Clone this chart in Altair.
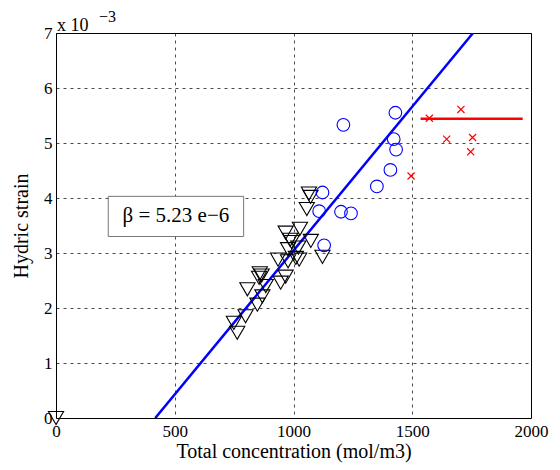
import altair as alt
import pandas as pd

# Strain values are in units of 1e-3
circ_x = [1210, 1429, 1422, 1432, 1408, 1351, 1200, 1242, 1122, 1108, 1129]
circ_y = [5.33, 5.55, 5.07, 4.88, 4.51, 4.21, 3.75, 3.72, 4.10, 3.76, 3.14]

tri_x = [1065, 1072, 1056, 1027, 967, 986, 992, 1073, 977, 1020, 1010, 1024, 1122,
         935, 977, 858, 866, 855, 806, 883, 946, 967, 869, 848, 749, 763, 798, 0]
tri_y = [4.08, 4.02, 3.80, 3.44, 3.37, 3.24, 3.20, 3.22, 3.07, 3.10, 2.91, 2.88, 2.93,
         2.88, 2.85, 2.63, 2.59, 2.55, 2.34, 2.40, 2.46, 2.57, 2.21, 2.06, 1.73, 1.55, 1.85, 0.0]

cross_x = [1572, 1705, 1645, 1754, 1746, 1495]
cross_y = [5.45, 5.61, 5.07, 5.10, 4.84, 4.40]

fit_x = [418, 1756]
fit_y = [0.0, 7.0]

mean_x = [1535, 1965]
mean_y = [5.44, 5.44]

x_ticks = [0, 500, 1000, 1500, 2000]
y_ticks = [0, 1, 2, 3, 4, 5, 6, 7]

box_text = "β = 5.23 e−6"
box_x = [220, 790]
box_y = [3.30, 4.03]

FONT = "Times New Roman, Liberation Serif, DejaVu Serif, serif"

xs = alt.Scale(domain=[0, 2000], nice=False, zero=False)
ys = alt.Scale(domain=[0, 7], nice=False, zero=False)

xax = alt.Axis(values=x_ticks, format="d", title="Total concentration (mol/m3)", grid=True,
               gridColor="#000", gridDash=[3, 4], gridOpacity=0.7, gridWidth=1,
               domain=False, ticks=False, labelFontSize=17, labelFont=FONT,
               labelColor="#000", labelPadding=5, titleFont=FONT, titleFontSize=20,
               titleFontWeight="normal", titleColor="#000", titlePadding=2, labelFlush=False)
yax = alt.Axis(values=y_ticks, format="d", title="Hydric strain", grid=True,
               gridColor="#000", gridDash=[3, 4], gridOpacity=0.7, gridWidth=1,
               domain=False, ticks=False, labelFontSize=17, labelFont=FONT,
               labelColor="#000", labelPadding=4, titleFont=FONT, titleFontSize=20,
               titleFontWeight="normal", titleColor="#000", titlePadding=12, labelFlush=False)

base_df = pd.DataFrame({"x": x_ticks[:1], "y": y_ticks[:1]})
axes = alt.Chart(base_df).mark_point(opacity=0).encode(
    x=alt.X("x:Q", scale=xs, axis=xax), y=alt.Y("y:Q", scale=ys, axis=yax))

box_df = pd.DataFrame({"x": [box_x[0]], "x2": [box_x[1]], "y": [box_y[0]], "y2": [box_y[1]],
                       "xc": [(box_x[0] + box_x[1]) / 2], "yc": [(box_y[0] + box_y[1]) / 2],
                       "t": [box_text]})
box = alt.Chart(box_df).mark_rect(fill="white", stroke="#777", strokeWidth=1).encode(
    x=alt.X("x:Q", scale=xs), x2="x2", y=alt.Y("y:Q", scale=ys), y2="y2")
box_t = alt.Chart(box_df).mark_text(font=FONT, fontSize=21, color="#000",
                                    align="center", baseline="middle").encode(
    x=alt.X("xc:Q", scale=xs), y=alt.Y("yc:Q", scale=ys), text="t:N")

fit_df = pd.DataFrame({"x": fit_x, "y": fit_y})
fit = alt.Chart(fit_df).mark_line(color="#0000ff", strokeWidth=2.5, clip=True).encode(
    x=alt.X("x:Q", scale=xs), y=alt.Y("y:Q", scale=ys))

mean_df = pd.DataFrame({"x": mean_x, "y": mean_y})
mean = alt.Chart(mean_df).mark_line(color="#ff0000", strokeWidth=2.5).encode(
    x=alt.X("x:Q", scale=xs), y=alt.Y("y:Q", scale=ys))

tri_df = pd.DataFrame({"x": tri_x, "y": tri_y})
tri = alt.Chart(tri_df).mark_point(shape="triangle-down", size=230, filled=False,
                                   color="#000", strokeWidth=1.1, opacity=1).encode(
    x=alt.X("x:Q", scale=xs), y=alt.Y("y:Q", scale=ys))

circ_df = pd.DataFrame({"x": circ_x, "y": circ_y})
circ = alt.Chart(circ_df).mark_point(shape="circle", size=160, filled=False,
                                     color="#0000ff", strokeWidth=1.1, opacity=1).encode(
    x=alt.X("x:Q", scale=xs), y=alt.Y("y:Q", scale=ys))

cross_df = pd.DataFrame({"x": cross_x, "y": cross_y})
cross = alt.Chart(cross_df).mark_point(shape="M-1,-1L1,1M-1,1L1,-1", size=50, filled=False,
                                       color="#ff0000", strokeWidth=1.2, opacity=1).encode(
    x=alt.X("x:Q", scale=xs), y=alt.Y("y:Q", scale=ys))

exp1 = alt.Chart(base_df).mark_text(text="x 10", font=FONT, fontSize=18, color="#000",
                                    align="left", baseline="alphabetic").encode(
    x=alt.value(1), y=alt.value(-2))
exp2 = alt.Chart(base_df).mark_text(text="−3", font=FONT, fontSize=16, color="#000",
                                    align="left", baseline="alphabetic").encode(
    x=alt.value(43), y=alt.value(-11))

chart = alt.layer(axes, box, box_t, fit, mean, tri, circ, cross, exp1, exp2).properties(
    width=475, height=385,
    autosize=alt.AutoSizeParams(type="none"),
    padding={"left": 48, "top": 25, "right": 20, "bottom": 46},
    background="white",
).configure_view(stroke="#000", strokeWidth=1).configure_text(font=FONT)

chart.save("out.html", embed_options={"renderer": "svg", "actions": False})
